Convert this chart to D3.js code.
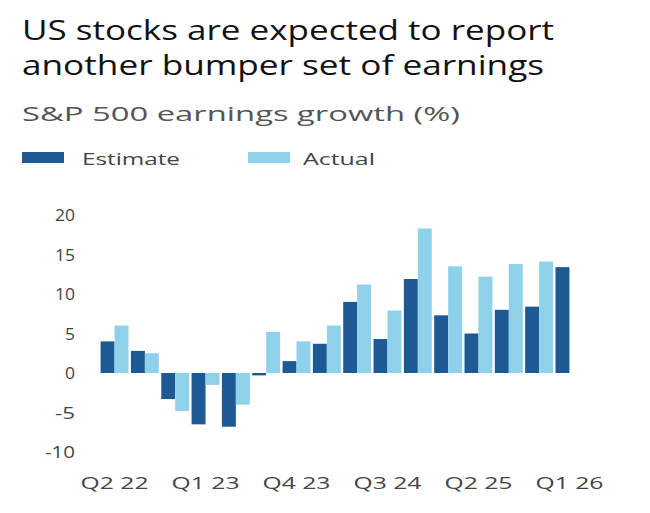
<!DOCTYPE html>
<html><head><meta charset="utf-8">
<script src="https://cdn.jsdelivr.net/npm/d3@7"></script>
<style>body{margin:0;background:#fff;font-family:"Open Sans",sans-serif;}</style>
</head><body>
<svg id="c" width="650" height="513"></svg>
<script>
var quarters = ["Q2 22","Q3 22","Q4 22","Q1 23","Q2 23","Q3 23","Q4 23","Q1 24","Q2 24","Q3 24","Q4 24","Q1 25","Q2 25","Q3 25","Q4 25","Q1 26"];
var estimate = [4, 2.8, -3.3, -6.5, -6.8, -0.3, 1.5, 3.7, 9, 4.3, 11.9, 7.3, 5, 8, 8.4, 13.4];
var actual = [6, 2.5, -4.8, -1.5, -4, 5.2, 4, 6, 11.2, 7.9, 18.3, 13.5, 12.2, 13.8, 14.1, null];
var yTicks = [-10, -5, 0, 5, 10, 15, 20];
var tickLabels = ["Q2 22","Q1 23","Q4 23","Q3 24","Q2 25","Q1 26"];

var svg = d3.select("#c");
var cEst = "#1d5a94", cAct = "#8fd1ea";

// the reference text is stretched sideways, so fit each label to its width
function txt(x, y, s, size, fill, len, anchor) {
  var t = svg.append("text").attr("x",x).attr("y",y).attr("font-size",size)
    .attr("fill",fill).attr("text-anchor",anchor || "start").text(s);
  if (len) t.attr("textLength",len).attr("lengthAdjust","spacingAndGlyphs");
  return t;
}

txt(22,40,"US stocks are expected to report",27,"#111",532);
txt(22,75,"another bumper set of earnings",27,"#111",522);
txt(22,121,"S&P 500 earnings growth (%)",20,"#555",438);

svg.append("rect").attr("x",22).attr("y",152).attr("width",42).attr("height",11).attr("fill",cEst);
txt(82,165,"Estimate",16,"#444",98);
svg.append("rect").attr("x",248).attr("y",152).attr("width",42).attr("height",11).attr("fill",cAct);
txt(303,165,"Actual",16,"#444",72);

var y = d3.scaleLinear().domain([-10,20]).range([452,215]);
var x = d3.scaleBand().domain(quarters).range([100,584]).paddingInner(0.08).paddingOuter(0.02);
var bw = x.bandwidth()/2;

yTicks.forEach(function(t){
  var s = String(t);
  txt(75,y(t)+6,s,17,"#444",s.length*10,"end");
});

svg.selectAll(".e").data(quarters).enter().append("rect")
  .attr("x",function(d){return x(d);})
  .attr("width",bw)
  .attr("y",function(d,i){return y(Math.max(0,estimate[i]));})
  .attr("height",function(d,i){return Math.abs(y(estimate[i])-y(0));})
  .attr("fill",cEst);
svg.selectAll(".a").data(quarters.filter(function(d,i){return actual[i]!=null;})).enter().append("rect")
  .attr("x",function(d){return x(d)+bw;})
  .attr("width",bw)
  .attr("y",function(d,i){return y(Math.max(0,actual[i]));})
  .attr("height",function(d,i){return Math.abs(y(actual[i])-y(0));})
  .attr("fill",cAct);

tickLabels.forEach(function(q){
  txt(x(q)+bw,489,q,17,"#444",68,"middle");
});
</script>
</body></html>
